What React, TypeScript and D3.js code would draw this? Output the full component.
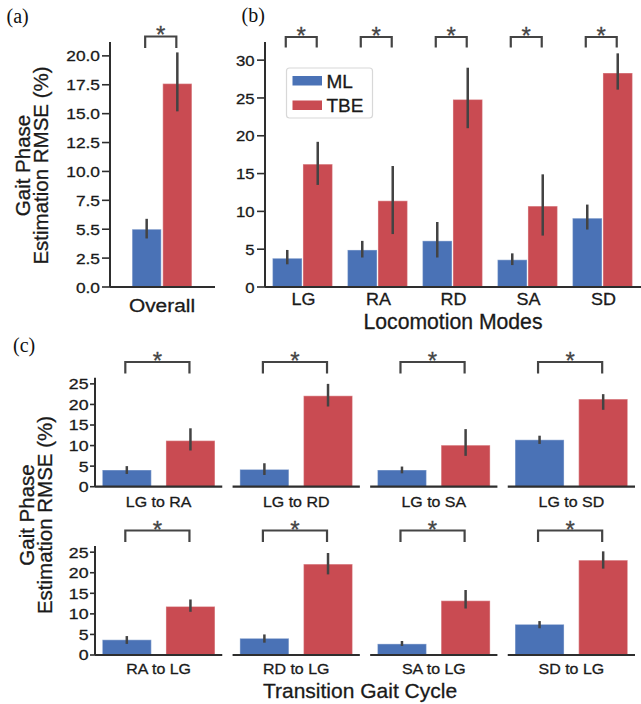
import React from "react";
import * as d3 from "d3";

const seriesNames = ["ML", "TBE"];
const seriesColors = ["#4a72b6", "#c94b52"];

// Panel (a)
const overallCats = ["Overall"];
const overallML = [5.0];
const overallMLLo = [4.2];
const overallMLHi = [5.9];
const overallTBE = [17.6];
const overallTBELo = [15.2];
const overallTBEHi = [20.3];
const overallTickValues = [0, 2.5, 5, 7.5, 10, 12.5, 15, 17.5, 20];
const overallTickLabels = ["0.0", "2.5", "5.5", "7.5", "10.0", "12.5", "15.0", "17.5", "20.0"];

// Panel (b)
const modes = ["LG", "RA", "RD", "SA", "SD"];
const modeML = [3.8, 4.9, 6.1, 3.6, 9.1];
const modeMLLo = [3.0, 3.9, 3.9, 2.9, 7.6];
const modeMLHi = [4.9, 6.1, 8.6, 4.45, 10.9];
const modeTBE = [16.25, 11.4, 24.8, 10.7, 28.3];
const modeTBELo = [13.5, 7.0, 21.0, 6.8, 26.1];
const modeTBEHi = [19.2, 16.0, 29.0, 14.9, 30.9];
const modeTicks = [0, 5, 10, 15, 20, 25, 30];

// Panel (c)
const transitions = ["LG to RA", "LG to RD", "LG to SA", "LG to SD", "RA to LG", "RD to LG", "SA to LG", "SD to LG"];
const transML = [4.06, 4.2, 4.06, 11.4, 3.7, 4.05, 2.7, 7.45];
const transMLLo = [3.1, 2.85, 3.25, 10.4, 2.7, 3.0, 2.2, 6.5];
const transMLHi = [5.0, 5.7, 4.9, 12.4, 4.6, 5.0, 3.4, 8.25];
const transTBE = [11.2, 22.1, 10.1, 21.3, 11.8, 22.1, 13.2, 23.06];
const transTBELo = [8.8, 19.5, 7.5, 18.7, 10.5, 19.6, 11.3, 21.0];
const transTBEHi = [14.2, 25.0, 14.0, 22.5, 13.5, 24.8, 15.8, 25.2];
const transTicks = [0, 5, 10, 15, 20, 25];

const FONT = "'Liberation Sans', Arial, sans-serif";
const SERIF = "'Liberation Serif', 'Times New Roman', serif";
const AX = "#2e2e2e";
const ERR = "#434343";
const TXT = "#1a1a1a";

function Txt({ x, y, fs, sx = 1, anchor = "middle", dy, fill = TXT, family = FONT, children }: any) {
  return (
    <text
      transform={`translate(${x},${y}) scale(${sx},1)`}
      textAnchor={anchor}
      fontSize={fs}
      dy={dy}
      fill={fill}
      stroke={fill}
      strokeWidth={0.3}
      fontFamily={family}
    >
      {children}
    </text>
  );
}

type GroupProps = {
  x0: number;
  sub: d3.ScaleBand<string>;
  y: d3.ScaleLinear<number, number>;
  vals: number[];
  lo: number[];
  hi: number[];
  bracketTop: number;
  bracketBottom: number;
  starY: number;
};

const STAR = 24;

function Group({ x0, sub, y, vals, lo, hi, bracketTop, bracketBottom, starY }: GroupProps) {
  const cx = seriesNames.map((s) => x0 + (sub(s) as number) + sub.bandwidth() / 2);
  const bl = cx[0] - 1.5;
  const br = cx[1] - 1;
  return (
    <g>
      {seriesNames.map((s, i) => (
        <rect
          key={s}
          x={x0 + (sub(s) as number)}
          y={y(vals[i])}
          width={sub.bandwidth()}
          height={y(0) - y(vals[i])}
          fill={seriesColors[i]}
          stroke="#ffffff"
          strokeOpacity={0.35}
          strokeWidth={1.2}
        />
      ))}
      {seriesNames.map((s, i) => (
        <line key={"e" + s} x1={cx[i]} x2={cx[i]} y1={y(lo[i])} y2={y(hi[i])} stroke={ERR} strokeWidth={2.5} />
      ))}
      <path
        d={`M${bl},${bracketBottom}V${bracketTop}H${br}V${bracketBottom}`}
        fill="none"
        stroke="#444"
        strokeWidth={2.2}
      />
      <Txt x={(bl + br) / 2} y={starY + STAR * 0.56} fs={STAR} fill="#444">*</Txt>
    </g>
  );
}

function YAxis({ x, y, ticks, labels, fs, sx, tickLen, gap, top }: any) {
  return (
    <g>
      <line x1={x} x2={x} y1={top} y2={y(0)} stroke={AX} strokeWidth={2} />
      {ticks.map((t: number, i: number) => (
        <g key={t}>
          <line x1={x - tickLen} x2={x} y1={y(t)} y2={y(t)} stroke={AX} strokeWidth={1.6} />
          <Txt x={x - tickLen - gap} y={y(t)} dy="0.36em" anchor="end" fs={fs} sx={sx}>
            {labels ? labels[i] : String(t)}
          </Txt>
        </g>
      ))}
    </g>
  );
}

function YLabel({ x1, x2, cy, size }: { x1: number; x2: number; cy: number; size: number }) {
  return (
    <g fontFamily={FONT} fontSize={size} fill={TXT} stroke={TXT} strokeWidth={0.3} textAnchor="middle">
      <text transform={`translate(${x1},${cy}) rotate(-90)`}>Gait Phase</text>
      <text transform={`translate(${x2},${cy}) rotate(-90)`}>Estimation RMSE (%)</text>
    </g>
  );
}

export default function App() {
  // Panel a scales
  const yA = d3.scaleLinear().domain([0, 21.2]).range([287, 42]);
  const xA = d3.scaleBand<string>().domain(overallCats).range([110, 214]).padding(0.27);
  const subA = d3.scaleBand<string>().domain(seriesNames).range([0, xA.bandwidth()]).paddingInner(0.05);

  // Panel b scales
  const yB = d3.scaleLinear().domain([0, 32.4]).range([287, 42]);
  const xB = d3.scaleBand<string>().domain(modes).range([265, 640]).paddingInner(0.2).paddingOuter(0.1);
  const subB = d3.scaleBand<string>().domain(seriesNames).range([0, xB.bandwidth()]).paddingInner(0.03);

  // Panel c scales
  const colIdx = ["0", "1", "2", "3"];
  const xC = d3.scaleBand<string>().domain(colIdx).range([95, 635]).paddingInner(0.075);
  const subC = d3.scaleBand<string>().domain(seriesNames).range([0, xC.bandwidth()]).paddingInner(0.23).paddingOuter(0.115);
  const yC = [
    d3.scaleLinear().domain([0, 26.5]).range([486.7, 377.7]),
    d3.scaleLinear().domain([0, 26.5]).range([655, 546]),
  ];
  const rowC = [
    { top: 362, bottom: 373.5, star: 356, label: 506.5 },
    { top: 530.5, bottom: 542, star: 525, label: 673.5 },
  ];

  return (
    <div style={{ position: "absolute", left: 0, top: 0 }}>
      <svg width={641} height={704} viewBox="0 0 641 704" style={{ display: "block", background: "#fff" }}>
        <rect width={641} height={704} fill="#fff" />

        {/* Panel labels */}
        <text x={6.5} y={23} fontFamily={SERIF} fontSize={20} fill="#111">(a)</text>
        <text x={241.5} y={21.5} fontFamily={SERIF} fontSize={20} fill="#111">(b)</text>
        <text x={13} y={351.5} fontFamily={SERIF} fontSize={20} fill="#111">(c)</text>

        {/* Panel (a) */}
        <YLabel x1={30} x2={48} cy={165.5} size={20.5} />
        <YAxis x={110} y={yA} ticks={overallTickValues} labels={overallTickLabels} fs={15.5} sx={1.12} tickLen={8} gap={2} top={42} />
        {overallCats.map((c, i) => (
          <Group
            key={c}
            x0={xA(c) as number}
            sub={subA}
            y={yA}
            vals={[overallML[i], overallTBE[i]]}
            lo={[overallMLLo[i], overallTBELo[i]]}
            hi={[overallMLHi[i], overallTBEHi[i]]}
            bracketTop={36.5}
            bracketBottom={48}
            starY={30}
          />
        ))}
        <line x1={110} x2={215} y1={yA(0)} y2={yA(0)} stroke={AX} strokeWidth={2} />
        {overallCats.map((c) => (
          <Txt key={c} x={(xA(c) as number) + xA.bandwidth() / 2} y={311.5} fs={18.5} sx={1.13}>
            {c}
          </Txt>
        ))}

        {/* Panel (b) */}
        <YAxis x={265} y={yB} ticks={modeTicks} fs={15.5} sx={1.08} tickLen={8} gap={2.5} top={42} />
        {modes.map((m, i) => (
          <Group
            key={m}
            x0={xB(m) as number}
            sub={subB}
            y={yB}
            vals={[modeML[i], modeTBE[i]]}
            lo={[modeMLLo[i], modeTBELo[i]]}
            hi={[modeMLHi[i], modeTBEHi[i]]}
            bracketTop={37}
            bracketBottom={47.5}
            starY={30.5}
          />
        ))}
        <line x1={265} x2={641} y1={yB(0)} y2={yB(0)} stroke={AX} strokeWidth={2} />
        {modes.map((m) => (
          <Txt key={m} x={(xB(m) as number) + xB.bandwidth() / 2 + 1} y={305} fs={16.5} sx={1.09}>
            {m}
          </Txt>
        ))}
        <Txt x={453} y={328.5} fs={21.2}>Locomotion Modes</Txt>

        {/* Legend */}
        <rect x={286.5} y={68} width={86} height={50} rx={3} fill="#fff" fillOpacity={0.85} stroke="#d8d8d8" strokeWidth={1.2} />
        {seriesNames.map((s, i) => (
          <g key={s}>
            <rect x={292.5} y={76 + i * 24.5} width={29.5} height={9.5} fill={seriesColors[i]} />
            <Txt x={326.5} y={81 + i * 24.5} dy="0.36em" fs={19} anchor="start">{s}</Txt>
          </g>
        ))}

        {/* Panel (c) */}
        <YLabel x1={33.5} x2={51.5} cy={515} size={20.5} />
        {[0, 1].map((r) => (
          <g key={r}>
            <YAxis x={95} y={yC[r]} ticks={transTicks} fs={15} sx={1.18} tickLen={5} gap={1.5} top={yC[r](26.5)} />
            {colIdx.map((cIdx, ci) => {
              const k = r * 4 + ci;
              const x0 = xC(cIdx) as number;
              return (
                <g key={cIdx}>
                  <Group
                    x0={x0}
                    sub={subC}
                    y={yC[r]}
                    vals={[transML[k], transTBE[k]]}
                    lo={[transMLLo[k], transTBELo[k]]}
                    hi={[transMLHi[k], transTBEHi[k]]}
                    bracketTop={rowC[r].top}
                    bracketBottom={rowC[r].bottom}
                    starY={rowC[r].star}
                  />
                  <line x1={x0} x2={x0 + xC.bandwidth()} y1={yC[r](0)} y2={yC[r](0)} stroke={AX} strokeWidth={2.2} />
                  <Txt x={x0 + xC.bandwidth() / 2} y={rowC[r].label} fs={14.5} sx={1.1}>
                    {transitions[k]}
                  </Txt>
                </g>
              );
            })}
          </g>
        ))}
        <Txt x={360} y={698} fs={21}>Transition Gait Cycle</Txt>
      </svg>
    </div>
  );
}
